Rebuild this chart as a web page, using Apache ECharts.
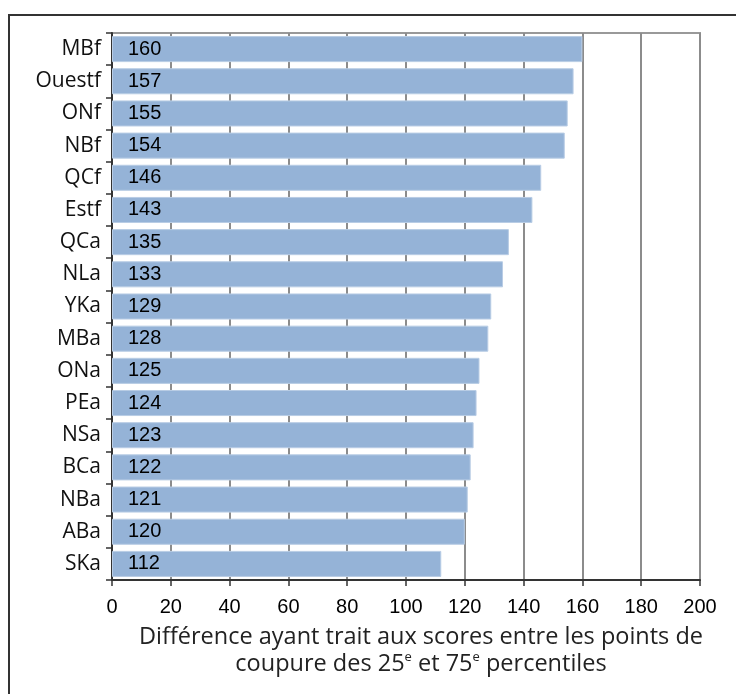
<!DOCTYPE html>
<html>
<head>
    <meta charset="utf-8">
    <title>ECharts</title>
    <script src="https://cdn.jsdelivr.net/npm/echarts@6.0.0/dist/echarts.min.js"></script>
    <style>
        html, body { margin: 0; padding: 0; background: #fff; }
    </style>
</head>
<body>
<div id="main" style="width: 736px;height:694px;"></div>
<script type="text/javascript">
    // catégories (de haut en bas) et valeurs
    var categories = ['MBf', 'Ouestf', 'ONf', 'NBf', 'QCf', 'Estf', 'QCa', 'NLa', 'YKa',
        'MBa', 'ONa', 'PEa', 'NSa', 'BCa', 'NBa', 'ABa', 'SKa'];
    var values = [160, 157, 155, 154, 146, 143, 135, 133, 129, 128, 125, 124, 123, 122, 121, 120, 112];

    var myChart = echarts.init(document.getElementById('main'));

    var option = {
        animation: false,
        grid: {
            left: 112,
            right: 36,
            top: 33,
            bottom: 114,
            show: true,
            borderColor: '#999',
            borderWidth: 2
        },
        graphic: [{
            type: 'rect',
            shape: { x: 9, y: 15, width: 900, height: 900 },
            style: { fill: 'none', stroke: '#333', lineWidth: 2 },
            silent: true
        }],
        xAxis: {
            type: 'value',
            min: 0,
            max: 200,
            interval: 20,
            axisLine: { show: true, lineStyle: { color: '#333', width: 2 } },
            axisTick: { show: true, length: 6, lineStyle: { color: '#333', width: 1.5 } },
            splitLine: { show: true, lineStyle: { color: '#8c8c8c', width: 2 } },
            axisLabel: {
                color: '#000',
                fontSize: 20,
                fontFamily: 'Liberation Sans',
                margin: 17
            },
            name: 'Différence ayant trait aux scores entre les points de\ncoupure des 25{s|e} et 75{s|e} percentiles',
            nameLocation: 'middle',
            nameGap: 44,
            nameTextStyle: {
                color: '#222',
                fontSize: 23.5,
                fontFamily: 'Open Sans',
                lineHeight: 27,
                verticalAlign: 'top',
                padding: [0, 0, 0, 30],
                rich: {
                    s: {
                        fontSize: 13,
                        fontFamily: 'Open Sans',
                        color: '#222',
                        verticalAlign: 'top',
                        lineHeight: 27,
                        padding: [0, 0, 9, 0]
                    }
                }
            }
        },
        yAxis: {
            type: 'category',
            inverse: true,
            data: categories,
            axisLine: { show: true, lineStyle: { color: '#333', width: 2 } },
            axisTick: { show: true, length: 6, lineStyle: { color: '#333', width: 1.5 } },
            axisLabel: {
                color: '#111',
                fontSize: 21,
                fontFamily: 'Open Sans',
                margin: 11
            }
        },
        series: [{
            type: 'bar',
            data: values,
            barCategoryGap: '19%',
            itemStyle: {
                color: '#95b3d7',
                borderColor: '#b9cde5',
                borderWidth: 1
            },
            label: {
                show: true,
                position: 'insideLeft',
                distance: 16,
                color: '#000',
                fontSize: 20,
                fontFamily: 'Liberation Sans'
            }
        }]
    };

    myChart.setOption(option);
</script>
</body>
</html>
